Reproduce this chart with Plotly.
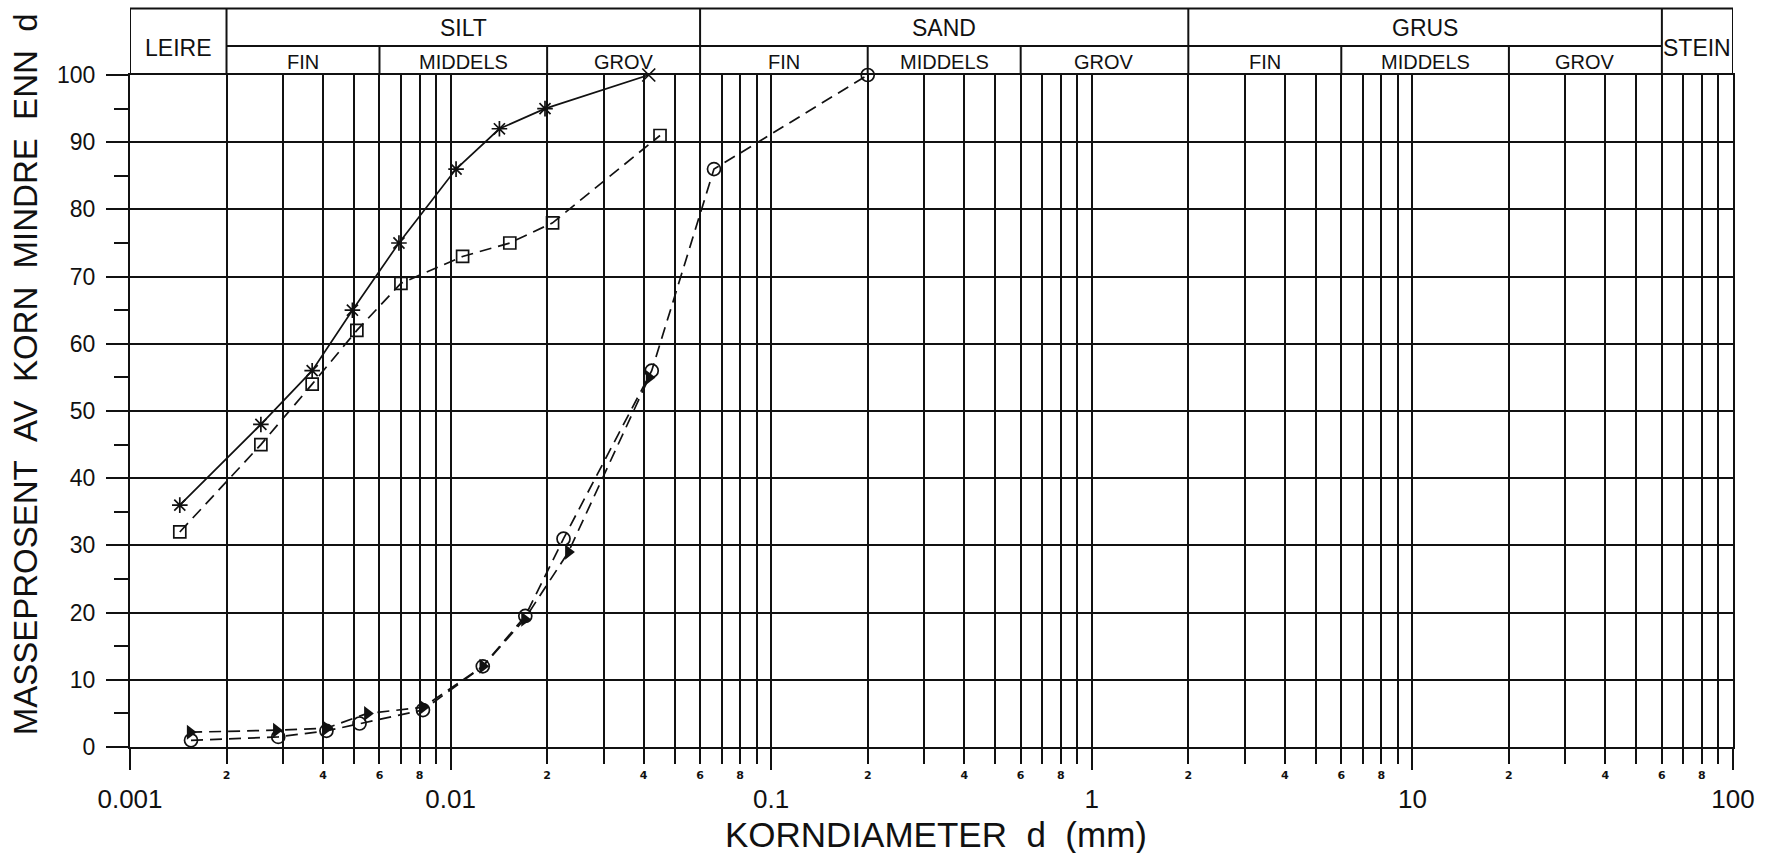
import math
import plotly.graph_objects as go

# ---- measured grain-size curves (diameter in mm, mass percent finer) ----
star_d = [0.00143, 0.00256, 0.0037, 0.00494, 0.0069, 0.0104, 0.0142, 0.0197, 0.0415]
star_p = [36, 48, 56, 65, 75, 86, 92, 95, 100]

square_d = [0.00143, 0.00256, 0.0037, 0.0051, 0.0070, 0.0109, 0.0153, 0.0208, 0.0450]
square_p = [32, 45, 54, 62, 69, 73, 75, 78, 91]

circle_d = [0.00155, 0.0029, 0.0041, 0.0052, 0.0082, 0.0126, 0.0171, 0.0225, 0.0424, 0.0663, 0.2]
circle_p = [1.0, 1.5, 2.4, 3.5, 5.5, 12, 19.5, 31, 56, 86, 100]

triangle_d = [0.00154, 0.00286, 0.0041, 0.0055, 0.0082, 0.0126, 0.0170, 0.0233, 0.0416]
triangle_p = [2.2, 2.5, 2.8, 5.0, 5.9, 12, 19, 29, 55]

# ---- axis ticks ----
decades = [0.001, 0.01, 0.1, 1, 10, 100]
decade_labels = ["0.001", "0.01", "0.1", "1", "10", "100"]
percent_ticks = list(range(0, 101, 10))
percent_minor = list(range(5, 100, 10))

# ---- grain-size classes (main fractions and sub-fractions, limits in mm) ----
main_classes = ["LEIRE", "SILT", "SAND", "GRUS", "STEIN"]
main_limits = [0.001, 0.002, 0.06, 2, 60, 100]
sub_classes = ["FIN", "MIDDELS", "GROV"]
sub_limits = [0.002, 0.006, 0.02, 0.06, 0.2, 0.6, 2, 6, 20, 60]

INK = "#111111"
FONT = "Liberation Sans, Arial, Helvetica, sans-serif"

# every 1..9 multiple inside the decades -> grid lines, with 2/4/6/8 labelled
grid_vals, grid_text = [], []
for dec in decades[:-1]:
    for m in range(1, 10):
        grid_vals.append(dec * m)
        grid_text.append(str(m) if m in (2, 4, 6, 8) else "")
grid_vals.append(decades[-1])
grid_text.append("")

fig = go.Figure()

fig.add_trace(go.Scatter(
    x=star_d, y=star_p, mode="lines+markers", cliponaxis=False,
    line=dict(color=INK, width=1.7),
    marker=dict(symbol=["asterisk-open"] * (len(star_d) - 1) + ["x-thin-open"],
                size=13, color=INK, line=dict(color=INK, width=1.7)),
    showlegend=False))

fig.add_trace(go.Scatter(
    x=square_d, y=square_p, mode="lines+markers", cliponaxis=False,
    line=dict(color=INK, width=1.7, dash="12px,7px"),
    marker=dict(symbol="square-open", size=12, color=INK, line=dict(color=INK, width=1.7)),
    showlegend=False))

fig.add_trace(go.Scatter(
    x=circle_d, y=circle_p, mode="lines+markers", cliponaxis=False,
    line=dict(color=INK, width=1.7, dash="12px,7px"),
    marker=dict(symbol="circle-open", size=13, color=INK, line=dict(color=INK, width=1.7)),
    showlegend=False))

fig.add_trace(go.Scatter(
    x=triangle_d, y=triangle_p, mode="lines+markers", cliponaxis=False, xaxis="x2",
    line=dict(color=INK, width=1.7, dash="12px,7px"),
    marker=dict(symbol="triangle-right", size=13, color=INK),
    showlegend=False))

# ---- header table above the plot ----
Y_TOP = 1.099
Y_MID = 1.0432
shapes = []


def hline(x0, x1, y):
    shapes.append(dict(type="line", xref="x", yref="paper", x0=x0, x1=x1, y0=y, y1=y,
                       line=dict(color=INK, width=2)))


def vline(x, y0, y1):
    shapes.append(dict(type="line", xref="x", yref="paper", x0=x, x1=x, y0=y0, y1=y1,
                       line=dict(color=INK, width=2)))


hline(main_limits[0], main_limits[-1], Y_TOP)
hline(sub_limits[0], sub_limits[-1], Y_MID)
for lim in main_limits:
    vline(lim, 1, Y_TOP)
for lim in sub_limits:
    if lim not in main_limits:
        vline(lim, 1, Y_MID)

annotations = []


def log_mid(a, b):
    return (math.log10(a) + math.log10(b)) / 2


for i, name in enumerate(main_classes):
    a, b = main_limits[i], main_limits[i + 1]
    spans_both_rows = name in ("LEIRE", "STEIN")
    annotations.append(dict(
        text=name, xref="x", yref="paper", x=log_mid(a, b),
        y=1.0402 if spans_both_rows else 1.0699,
        showarrow=False, xanchor="center", yanchor="middle",
        font=dict(family=FONT, size=23, color=INK)))

for i in range(len(sub_limits) - 1):
    annotations.append(dict(
        text=sub_classes[i % 3], xref="x", yref="paper",
        x=log_mid(sub_limits[i], sub_limits[i + 1]), y=1.0193,
        showarrow=False, xanchor="center", yanchor="middle",
        font=dict(family=FONT, size=20, color=INK)))

# axis titles
annotations.append(dict(
    text="KORNDIAMETER  d  (mm)", xref="paper", yref="paper", x=0.503, y=-0.1295,
    showarrow=False, xanchor="center", yanchor="middle",
    font=dict(family=FONT, size=35, color=INK)))
annotations.append(dict(
    text="MASSEPROSENT\u00a0\u00a0AV\u00a0\u00a0KORN\u00a0\u00a0MINDRE\u00a0\u00a0ENN\u00a0\u00a0d",
    xref="paper", yref="paper", x=-0.0653, y=0.555, textangle=-90,
    showarrow=False, xanchor="center", yanchor="middle",
    font=dict(family=FONT, size=33, color=INK)))

fig.update_layout(
    width=1767, height=853, autosize=False,
    margin=dict(l=130, r=30, t=75, b=106),
    paper_bgcolor="white", plot_bgcolor="white",
    shapes=shapes, annotations=annotations,
    xaxis=dict(
        type="log", range=[-3, 2],
        tickmode="array", tickvals=grid_vals, ticktext=grid_text,
        ticks="outside", ticklen=15, tickwidth=1.8, tickcolor=INK,
        tickfont=dict(family="DejaVu Sans, sans-serif", size=11, color=INK, weight="bold"),
        ticklabelstandoff=2,
        showgrid=True, gridcolor=INK, gridwidth=1.8,
        showline=True, linecolor=INK, linewidth=2, mirror=True, zeroline=False),
    xaxis2=dict(
        type="log", range=[-3, 2], overlaying="x", anchor="y", side="bottom",
        tickmode="array", tickvals=decades, ticktext=decade_labels,
        ticks="outside", ticklen=22, tickwidth=1.8, tickcolor=INK,
        tickfont=dict(family=FONT, size=26, color=INK),
        ticklabelstandoff=7,
        showgrid=False, showline=False, zeroline=False),
    yaxis=dict(
        range=[0, 100], tickmode="array", tickvals=percent_ticks,
        ticks="outside", ticklen=22, tickwidth=1.8, tickcolor=INK,
        tickfont=dict(family=FONT, size=23, color=INK),
        ticklabelstandoff=6,
        minor=dict(tickmode="array", tickvals=percent_minor, ticks="outside",
                   ticklen=14, tickwidth=1.8, tickcolor=INK, showgrid=False),
        showgrid=True, gridcolor=INK, gridwidth=1.8,
        showline=True, linecolor=INK, linewidth=2, mirror=True, zeroline=False),
)

fig.write_html("out.html")
